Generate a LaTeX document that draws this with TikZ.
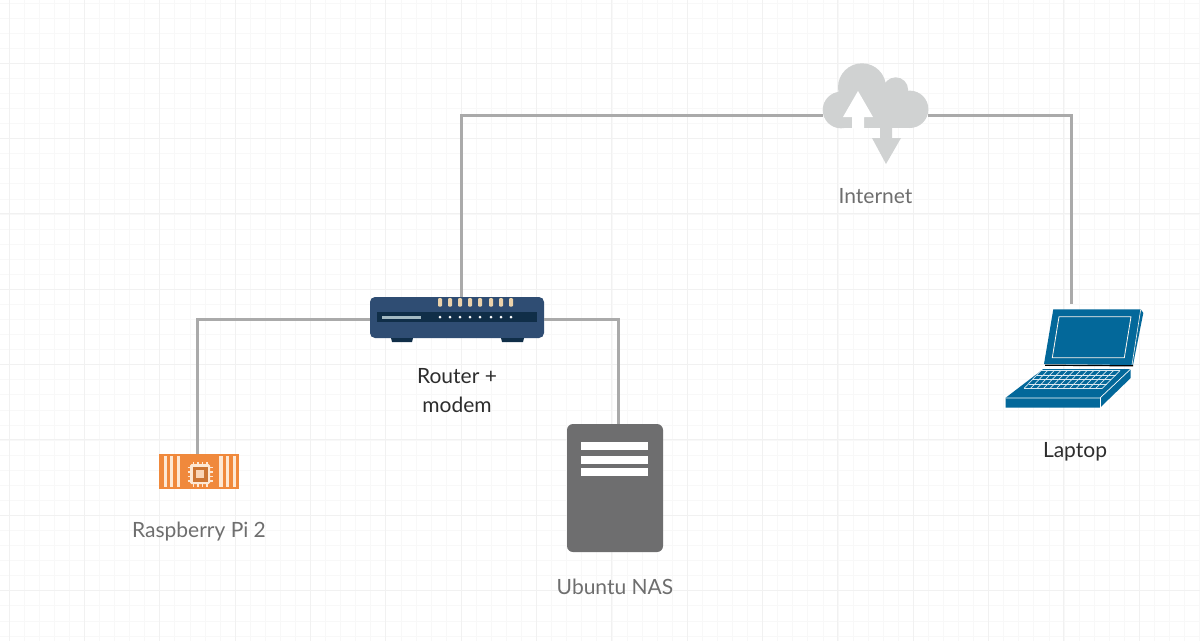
\documentclass[tikz,border=0pt]{standalone}
\usepackage{fontspec}
\setmainfont{Lato}
\usepackage{xcolor}
\usetikzlibrary{positioning}
\definecolor{linegrey}{RGB}{170, 170, 170}
\definecolor{cloudgrey}{RGB}{208, 210, 210}
\definecolor{routerblue}{RGB}{47, 77, 115}
\definecolor{routerdark}{RGB}{16, 46, 72}
\definecolor{ledtan}{RGB}{235, 210, 170}
\definecolor{piorange}{RGB}{240, 137, 60}
\definecolor{pilight}{RGB}{253, 232, 212}
\definecolor{nasgrey}{RGB}{110, 110, 111}
\definecolor{laptopblue}{RGB}{3, 104, 154}
\definecolor{labelgrey}{RGB}{110, 110, 110}
\definecolor{labeldark}{RGB}{45, 45, 45}
\definecolor{minorgrid}{RGB}{248, 248, 248}
\definecolor{majorgrid}{RGB}{241, 241, 241}

\begin{document}
\begin{tikzpicture}[
    x=1pt, y=-1pt,
    font=\fontsize{21}{29}\selectfont,
    icon/.style={rectangle, inner sep=0pt, outer sep=0pt},
    label/.style={text=labelgrey, align=center, inner sep=0pt},
    darklabel/.style={label, text=labeldark},
    line/.style={draw=linegrey, line width=3pt}
]
\useasboundingbox (0,0) rectangle (1200,641);

% Grid
\fill[white] (0,0) rectangle (1200,641);
\foreach \k in {0,...,80} \draw[minorgrid, line width=0.7pt] ({-6+15.07*\k},0) -- ({-6+15.07*\k},641);
\foreach \k in {0,...,43} \draw[minorgrid, line width=0.7pt] (0,{3+15.07*\k}) -- (1200,{3+15.07*\k});
\foreach \k in {0,...,15} \draw[majorgrid, line width=0.7pt] ({9+75.33*\k},0) -- ({9+75.33*\k},641);
\foreach \k in {0,...,8} \draw[majorgrid, line width=0.7pt] (0,{63+75.33*\k}) -- (1200,{63+75.33*\k});

% Nodes
\node [icon, fill=routerblue, rounded corners=5pt, minimum width=174pt, minimum height=41pt] (router) at (457,317.5) {};
\node [icon, fill=piorange, minimum width=80pt, minimum height=35pt, below left=116pt and 131pt of router] (pi) {};
\node [icon, fill=nasgrey, rounded corners=6pt, minimum width=96pt, minimum height=128pt, below right=86pt and 23pt of router] (nas) {};
\node [icon, minimum width=105pt, minimum height=65pt, above right=169pt and 279pt of router] (cloud) {};
\node [icon, minimum width=138pt, minimum height=99pt, below right=181pt and 78pt of cloud] (laptop) {};

\node [darklabel, below=30pt of router] (routerlabel) {Router +\\modem};
\node [label, below=33pt of pi] (pilabel) {Raspberry Pi 2};
\node [label, below=27pt of nas] (naslabel) {Ubuntu NAS};
\node [label, below=60pt of cloud] (cloudlabel) {Internet};
\node [darklabel, below=34pt of laptop] (laptoplabel) {Laptop};

% Connectors
\draw [line] ([xshift=4pt]router.north) |- ([yshift=-19.5pt]cloud.west);
\draw [line] ([yshift=-19.5pt]cloud.east) -| ([xshift=-3.5pt,yshift=5pt]laptop.north);
\draw [line] ([yshift=-1.5pt]router.west) -| ([xshift=-2pt]pi.north);
\draw [line] ([yshift=-1.5pt]router.east) -| ([xshift=3pt]nas.north);

% Cloud
\fill[cloudgrey] (841,110) circle (18.3) (862,87.3) circle (24) (895.7,89.7) circle (12.4) (909.7,109.3) circle (18.7);
\fill[cloudgrey] (841,92) rectangle (910,128);
\fill[cloudgrey] (862,85) rectangle (897,100);
\fill[white] (858,91) -- (873,117) -- (864,117) -- (864,128.5) -- (852,128.5) -- (852,117) -- (843,117) -- cycle;
\fill[cloudgrey] (880,128) -- (892,128) -- (892,138) -- (901,138) -- (886,164) -- (872,138) -- (880,138) -- cycle;

% Router
\fill[routerdark] (391,338) -- (413,338) -- (412,342) -- (392,342) -- cycle;
\fill[routerdark] (501,338) -- (524,338) -- (523,342) -- (502,342) -- cycle;
\fill[routerdark] (377,312) rectangle (537,322);
\fill[cyan!25!gray!70] (382,315.7) rectangle (421,318.7);
\foreach \ledx in {440,450,460,470,480,491,501,511} {
  \fill[ledtan, rounded corners=1pt] (\ledx-2,298) rectangle (\ledx+2,306.5);
  \fill[white] (\ledx,317) circle (1.5);
}

% Raspberry Pi
\foreach \barx in {163.5,170,176.7,219.3,226,233} \fill[pilight] (\barx,456) rectangle (\barx+3.3,487);
\foreach \pinx in {193.5,198,202.5,207} {
  \draw[pilight, line width=1.1pt] (\pinx,462) -- (\pinx,487);
}
\foreach \piny in {467.5,472,476.5,481} {
  \draw[pilight, line width=1.1pt] (187.5,\piny) -- (212.5,\piny);
}
\fill[pilight, rounded corners=1.5pt] (190,464) rectangle (210,484);
\fill[piorange!85!black] (192.5,466.5) rectangle (207.5,481.5);
\fill[pilight!80!piorange] (196,470) rectangle (204,478);

% Laptop
\fill[laptopblue] (1053.3,309.3) -- (1140.7,309.3) -- (1143.3,313) -- (1133,365) -- (1044,364) -- cycle;
\draw[pilight!40!white, line width=0.8pt] (1059,316.7) -- (1131,316.7) -- (1124.3,357.7) -- (1052.3,357.7) -- cycle;
\draw[pilight!40!white, line width=0.6pt] (1140.7,309.3) -- (1132,365);
\draw[black, line width=1.2pt] (1045,365.2) -- (1133,365.8);
\fill[laptopblue] (1043.3,369) -- (1130.7,369) -- (1130.7,378) -- (1100,407.7) -- (1005.7,407.7) -- (1005.7,397.7) -- cycle;
\draw[white, line width=0.7pt] (1005.7,398) -- (1100,398) -- (1130.7,369);
\draw[white, line width=0.7pt] (1100,398) -- (1100,407.7);
\foreach \rowy/\rowl/\rowr in {370.5/1041/1120,375/1037/1115.5,379.5/1033/1111,384/1028.5/1107,388.5/1024/1102} {
  \draw[white!85!laptopblue, line width=0.7pt] (\rowl,\rowy) -- (\rowr,\rowy);
}
\foreach \k in {0,...,12} {
  \draw[white!85!laptopblue, line width=0.7pt] ({1041+6.6*\k},370.5) -- ({1024+6.5*\k},388.5);
}

% NAS
\foreach \bary in {442,456,468} \fill[white] (581,\bary) rectangle (648,\bary+8);

\end{tikzpicture}
\end{document}
